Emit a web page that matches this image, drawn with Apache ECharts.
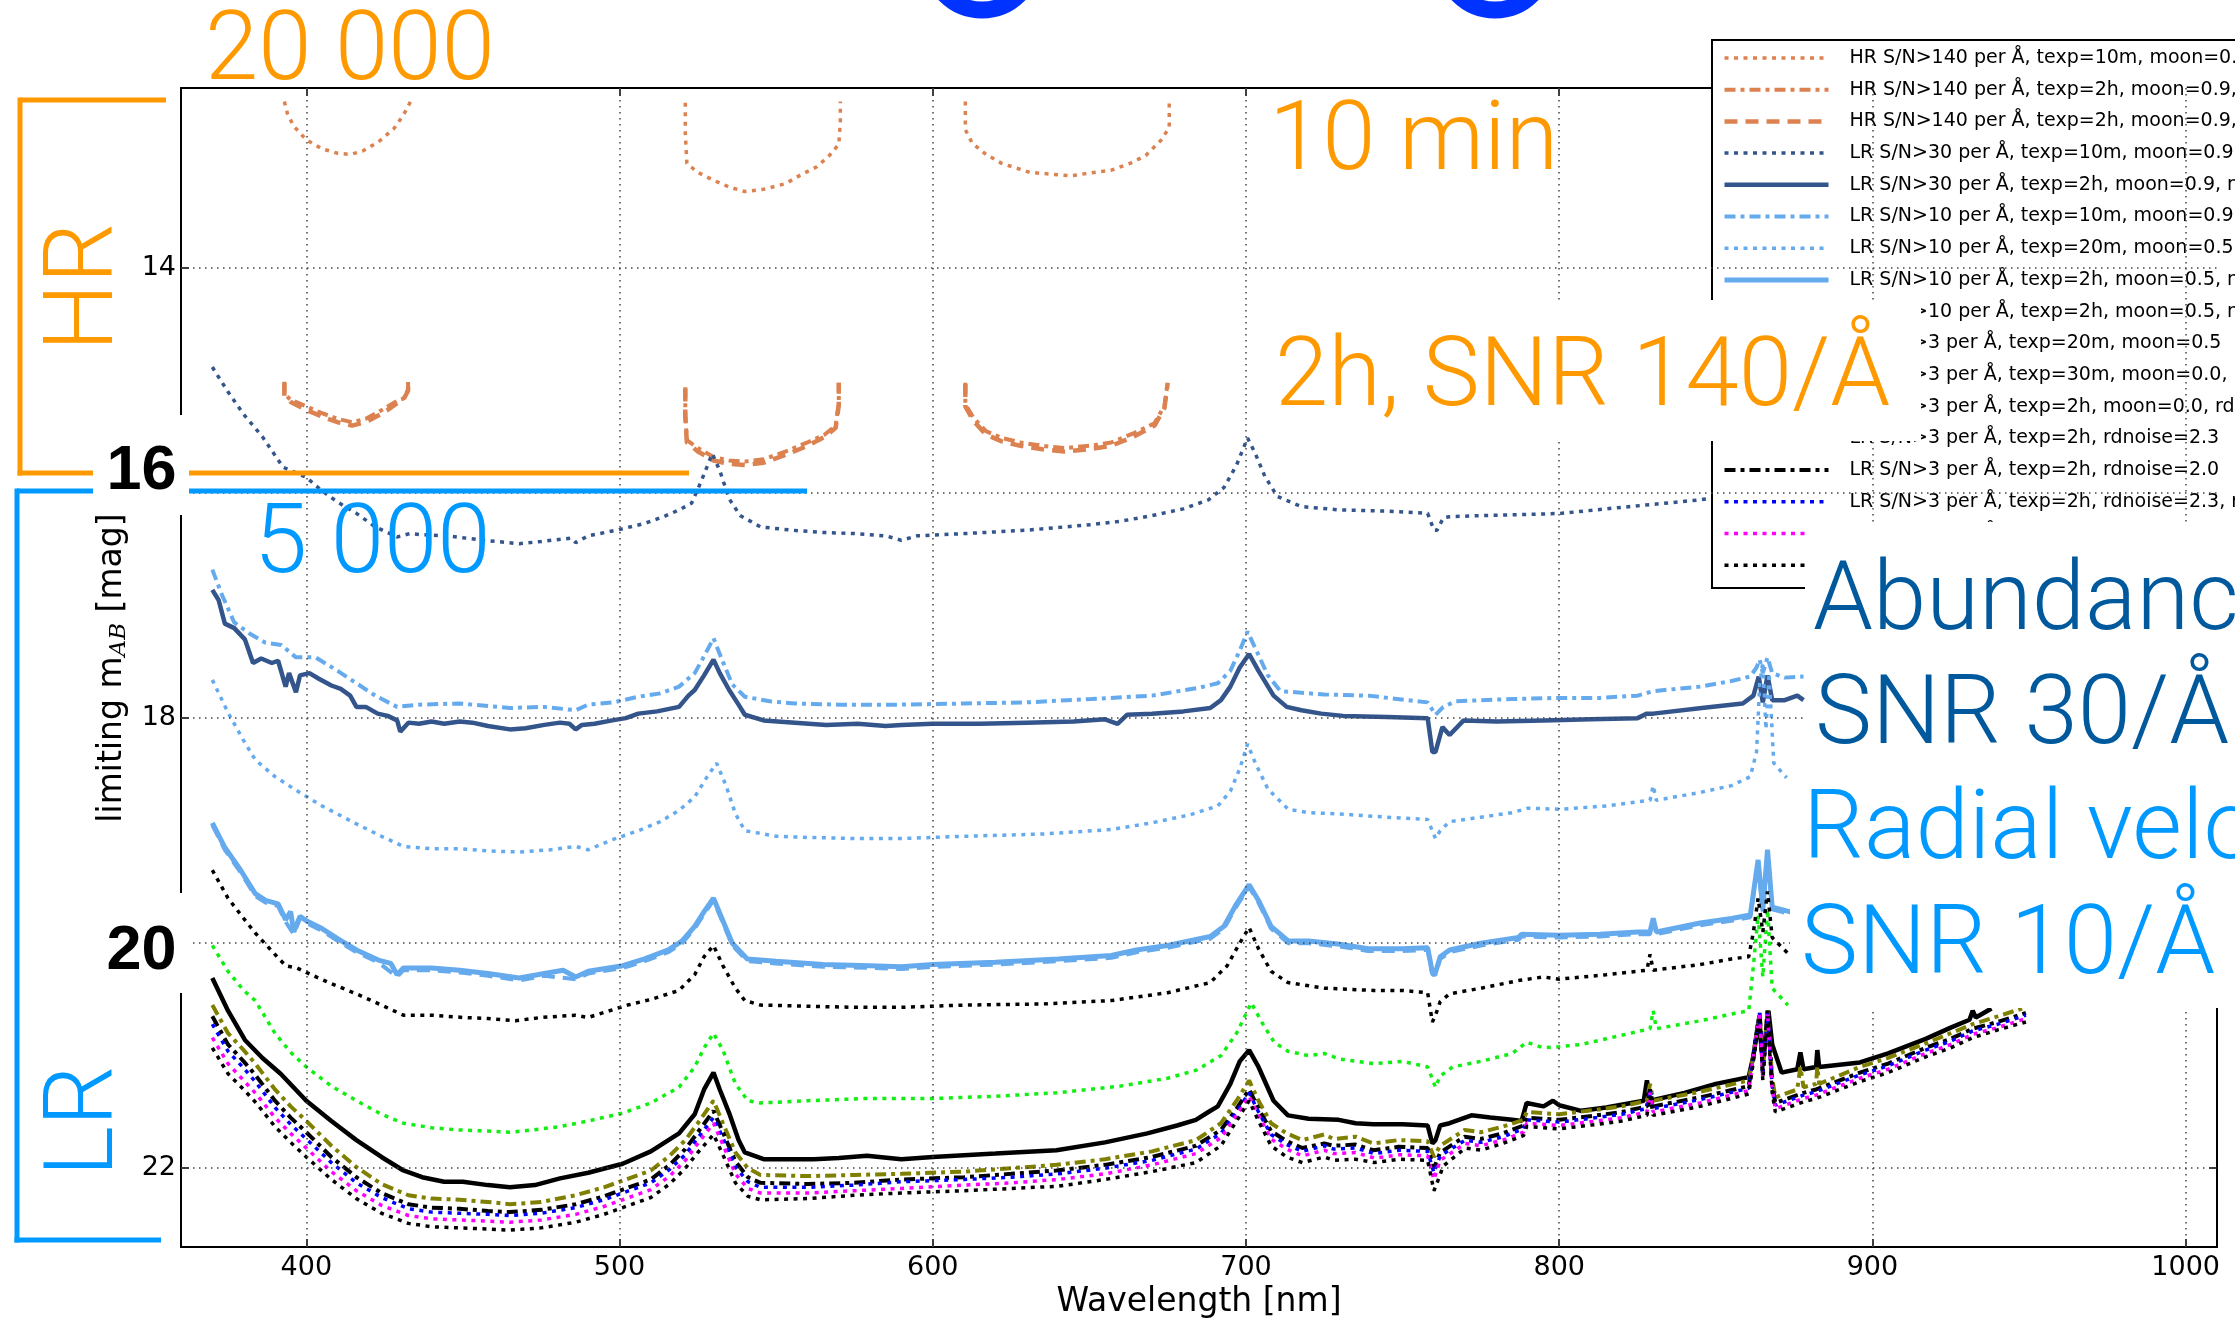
<!DOCTYPE html>
<html><head><meta charset="utf-8">
<script src="https://cdn.jsdelivr.net/npm/echarts@6/dist/echarts.min.js"></script>
<style>html,body{margin:0;padding:0;background:#fff;}#c{width:2235px;height:1324px;}</style>
</head><body><div id="c"></div>
<script>
const xTicks = [400, 500, 600, 700, 800, 900, 1000];
const yTicks = [14, 16, 18, 20, 22];

const legendLabels = [
  'HR S/N>140 per Å, texp=10m, moon=0.9',
  'HR S/N>140 per Å, texp=2h, moon=0.9,',
  'HR S/N>140 per Å, texp=2h, moon=0.9,',
  'LR S/N>30 per Å, texp=10m, moon=0.9,',
  'LR S/N>30 per Å, texp=2h, moon=0.9, no',
  'LR S/N>10 per Å, texp=10m, moon=0.9,',
  'LR S/N>10 per Å, texp=20m, moon=0.5',
  'LR S/N>10 per Å, texp=2h, moon=0.5, no',
  'LR S/N>10 per Å, texp=2h, moon=0.5, no',
  'LR S/N>3 per Å, texp=20m, moon=0.5',
  'LR S/N>3 per Å, texp=30m, moon=0.0, n',
  'LR S/N>3 per Å, texp=2h, moon=0.0, rdn',
  'LR S/N>3 per Å, texp=2h, rdnoise=2.3',
  'LR S/N>3 per Å, texp=2h, rdnoise=2.0',
  'LR S/N>3 per Å, texp=2h, rdnoise=2.3, n',
  'LR S/N>3 per Å, texp=2h',
  'LR S/N>3 per Å, texp=2h'
];

const hr10m = [[393,12.52],[394,12.63],[396,12.74],[400,12.86],[405,12.94],[410,12.98],[414,12.99],[418,12.96],[423,12.88],[428,12.76],[431,12.64],[433.5,12.51],[477,'-'],
 [521,12.53],[521,12.8],[521.5,13.07],[525,13.15],[530,13.22],[535,13.28],[540,13.32],[546,13.3],[553,13.25],[558,13.17],[563,13.1],[567,13.0],[570,12.9],[570.5,12.7],[570.5,12.52],[590,'-'],
 [610.4,12.52],[610.4,12.77],[612.6,12.89],[617,12.99],[622,13.07],[631,13.15],[644,13.18],[657,13.13],[663,13.07],[668,13.0],[673,12.86],[675.5,12.75],[675.5,12.53]];

const hr2hDashDot = [[393,15.01],[393,15.12],[395,15.17],[400,15.23],[405,15.29],[410,15.34],[414.6,15.37],[419,15.34],[423,15.28],[426,15.23],[429,15.18],[431,15.16],[432.5,15.08],[432.5,15.01],[477,'-'],
 [521,15.06],[521,15.3],[521.5,15.53],[525,15.6],[530,15.68],[535,15.71],[540,15.72],[546,15.7],[554,15.62],[560,15.55],[565.5,15.48],[569,15.4],[570,15.2],[570,15.02],[590,'-'],
 [610.4,15.02],[610.4,15.21],[613,15.33],[617,15.45],[622,15.51],[628,15.55],[635,15.58],[642,15.6],[650,15.58],[657,15.55],[664,15.47],[670.8,15.38],[674,15.22],[675,15.02]];

const hr2hDashed = [[393,15.02],[393,15.14],[395,15.19],[400,15.26],[405,15.32],[410,15.37],[414.6,15.4],[419,15.37],[423,15.31],[426,15.26],[429,15.2],[431,15.17],[432.5,15.09],[432.5,15.02],[477,'-'],
 [521,15.07],[521,15.32],[521.5,15.55],[525,15.63],[530,15.71],[535,15.74],[540,15.75],[546,15.73],[554,15.65],[560,15.58],[565.5,15.5],[569,15.42],[570,15.22],[570,15.02],[590,'-'],
 [610.4,15.03],[610.4,15.23],[613,15.36],[617,15.48],[622,15.54],[628,15.58],[635,15.61],[642,15.63],[650,15.61],[657,15.58],[664,15.5],[670.8,15.4],[674,15.24],[675,15.02]];

const lr30_10m = [[370,14.88],[375,15.1],[380,15.3],[386,15.5],[392.6,15.77],[400,15.86],[405,15.98],[410,16.08],[416,16.18],[422,16.3],[429,16.39],[433,16.36],[437,16.37],[445,16.38],[457,16.42],[468,16.45],[475,16.43],[484.6,16.4],[486,16.44],[490,16.38],[499,16.33],[508,16.27],[514,16.21],[519,16.15],[523,16.09],[526,15.9],[529.6,15.65],[532,15.8],[535,16.05],[538.5,16.2],[545,16.3],[555,16.33],[565,16.35],[575,16.36],[585,16.38],[590,16.42],[595,16.38],[610,16.36],[630,16.33],[650.6,16.28],[660,16.25],[670,16.2],[680,16.14],[688,16.06],[693,15.95],[697,15.75],[700.5,15.51],[703,15.65],[706,15.85],[710,16.03],[717.7,16.12],[730,16.15],[745,16.16],[758,16.18],[760,16.33],[761,16.33],[763,16.22],[765,16.21],[775,16.2],[790,16.19],[800.7,16.18],[815,16.14],[830,16.1],[845,16.06],[850,16.04]];

const lr30_2h = [[370,16.86],[372,16.95],[374,17.16],[377,17.2],[380.4,17.3],[383,17.51],[385.6,17.47],[389,17.51],[391,17.49],[393.4,17.72],[394.5,17.6],[396.7,17.77],[398,17.62],[401,17.6],[404,17.65],[408,17.71],[411,17.74],[414,17.8],[416,17.9],[419,17.9],[422.8,17.96],[426,17.98],[429,18.02],[430,18.12],[432.6,18.04],[436,18.05],[440,18.03],[444,18.05],[449,18.03],[453,18.04],[458,18.07],[465,18.1],[470,18.09],[476,18.06],[481,18.04],[484,18.05],[486,18.1],[488,18.06],[492,18.05],[497.7,18.02],[502,18.0],[506,17.96],[512,17.94],[519,17.9],[522,17.8],[524,17.75],[527,17.62],[530,17.48],[532,17.6],[535,17.75],[538,17.88],[540,17.97],[546,18.02],[556,18.04],[566,18.06],[576,18.05],[585,18.07],[590,18.06],[600,18.05],[615,18.05],[630,18.04],[645,18.03],[655,18.01],[659,18.05],[662,17.97],[670,17.96],[680,17.94],[688.6,17.91],[692,17.84],[695,17.72],[698,17.55],[701,17.43],[704,17.58],[708.8,17.8],[713,17.9],[717.7,17.93],[724,17.96],[731,17.98],[745,17.99],[758,18.0],[759.5,18.3],[760.5,18.3],[762.7,18.08],[765,18.15],[769.5,18.02],[780,18.03],[795,18.02],[810,18.01],[825,18.0],[828,17.96],[830,17.96],[845.5,17.91],[858.6,17.87],[862,17.8],[863.7,17.63],[865,17.86],[866.5,17.62],[868,17.84],[872,17.84],[876,17.8],[878,17.84]];

const lr10_10m = [[370,16.68],[373,16.9],[377,17.15],[382,17.25],[387,17.33],[392,17.35],[396.7,17.46],[403,17.46],[410,17.58],[416,17.69],[422,17.8],[429,17.9],[436,17.88],[449,17.87],[465,17.91],[476,17.9],[486,17.93],[490,17.88],[498,17.86],[506,17.81],[513,17.78],[519,17.72],[524,17.6],[527,17.45],[530,17.29],[533,17.5],[536,17.7],[540,17.81],[548,17.85],[556,17.87],[570,17.88],[590,17.88],[610,17.87],[630,17.86],[650.6,17.83],[670,17.8],[685,17.73],[691,17.69],[695,17.58],[698,17.4],[700.5,17.23],[703,17.38],[707,17.62],[711,17.76],[725,17.79],[739,17.8],[758,17.86],[760.5,17.97],[763,17.9],[767,17.85],[785,17.83],[800,17.82],[813,17.82],[825,17.8],[830,17.76],[845,17.72],[855,17.67],[861,17.63],[863,17.55],[864,17.48],[865,17.6],[866.5,17.46],[868,17.6],[872,17.64],[878,17.63]];

const lr10_20m = [[370,17.66],[375,17.95],[380,18.2],[383.7,18.37],[390,18.52],[396.7,18.64],[405,18.78],[416,18.94],[424,19.05],[431,19.14],[440,19.16],[449,19.16],[458,19.18],[468,19.19],[478,19.17],[486,19.14],[490,19.17],[497.7,19.08],[506,19.0],[513,18.92],[519,18.82],[524,18.7],[528,18.52],[531,18.4],[534,18.6],[537,18.85],[540,19.0],[550,19.05],[560,19.06],[575,19.07],[590,19.07],[610,19.05],[635,19.03],[657,18.99],[670,18.93],[682,18.86],[691,18.78],[695,18.65],[698,18.45],[700.5,18.23],[703,18.4],[707,18.63],[713.5,18.81],[720,18.84],[729,18.85],[745,18.88],[758,18.9],[760.5,19.07],[762,19.0],[765,18.92],[775,18.88],[785,18.84],[790,18.8],[800.7,18.81],[815,18.78],[829,18.73],[830,18.6],[831,18.73],[845,18.66],[855,18.6],[861,18.52],[863,18.3],[864,17.7],[865,17.5],[866,18.1],[867,17.6],[868.5,18.4],[872.6,18.53]];

const lr10_2h = [[370,18.93],[374,19.15],[379,19.35],[383.7,19.56],[387,19.62],[391,19.65],[393.4,19.79],[395,19.72],[396,19.9],[398,19.76],[400,19.8],[405,19.87],[410,19.96],[416,20.06],[423,20.15],[427,20.18],[429,20.28],[431,20.22],[440,20.22],[449,20.24],[458,20.27],[468,20.31],[476,20.27],[482,20.24],[486,20.3],[490,20.25],[501,20.2],[508,20.14],[515.6,20.06],[520,19.98],[524,19.85],[527,19.72],[530,19.6],[533,19.8],[536,20.0],[540.8,20.14],[550,20.16],[565,20.19],[580,20.2],[590,20.21],[600,20.19],[620,20.17],[640,20.14],[657,20.11],[665,20.06],[675,20.02],[688.6,19.94],[693,19.85],[697,19.65],[701,19.48],[704,19.62],[708,19.85],[713.5,19.98],[720,19.98],[730,20.01],[739,20.05],[750,20.05],[758,20.04],[759.5,20.26],[760.5,20.26],[762,20.12],[765,20.06],[775,20.0],[787,19.95],[788,19.92],[800,19.93],[813,19.92],[825,19.9],[829,19.9],[830,19.78],[831,19.9],[845,19.82],[855,19.78],[861,19.75],[863.5,19.26],[865,19.7],[866.5,19.17],[868,19.68],[875,19.73]];

const lr10_2hDashed = [[370,18.95],[374,19.17],[379,19.37],[383.7,19.58],[387,19.64],[391,19.67],[393.4,19.81],[396,19.92],[398,19.78],[400,19.82],[405,19.89],[410,19.98],[416,20.08],[423,20.17],[429,20.3],[431,20.24],[440,20.24],[449,20.26],[458,20.29],[468,20.33],[476,20.29],[486,20.32],[490,20.27],[501,20.22],[508,20.16],[515.6,20.08],[520,20.0],[524,19.87],[527,19.74],[530,19.62],[533,19.82],[536,20.02],[540.8,20.16],[550,20.18],[565,20.21],[580,20.22],[590,20.23],[600,20.21],[620,20.19],[640,20.16],[657,20.13],[665,20.08],[675,20.04],[688.6,19.96],[693,19.87],[697,19.67],[701,19.5],[704,19.64],[708,19.87],[713.5,20.0],[720,20.0],[730,20.03],[739,20.07],[750,20.07],[758,20.06],[759.5,20.28],[760.5,20.28],[762,20.14],[765,20.08],[775,20.02],[787,19.97],[788,19.94],[800,19.95],[813,19.94],[825,19.92],[829,19.92],[830,19.8],[831,19.92],[845,19.84],[855,19.8],[861,19.77],[863.5,19.28],[865,19.72],[866.5,19.19],[868,19.7],[875,19.75]];

const lr3_20m = [[370,20.02],[375,20.25],[380,20.42],[383.7,20.51],[390,20.8],[395,20.97],[400,21.1],[408,21.27],[416,21.4],[424,21.52],[431,21.6],[440,21.64],[449,21.66],[458,21.67],[465,21.68],[472,21.66],[481,21.63],[490,21.58],[501,21.51],[510,21.42],[519,21.28],[524,21.1],[527,20.93],[530,20.8],[533,20.95],[537,21.25],[541,21.4],[545,21.42],[560,21.4],[579,21.38],[601,21.38],[620,21.36],[639.5,21.33],[660,21.27],[675,21.2],[684,21.13],[692,21.0],[697,20.8],[701.7,20.53],[705,20.7],[709,20.88],[713.4,20.96],[720,21.0],[725,20.98],[730,21.03],[740.7,21.07],[750,21.05],[758,21.1],[760.5,21.28],[762,21.18],[766,21.1],[775,21.05],[785,20.98],[789.6,20.88],[795,20.93],[800,20.92],[807,20.9],[815,20.85],[829,20.76],[830,20.6],[831,20.76],[845,20.69],[855,20.63],[860.5,20.6],[862,20.2],[863.5,19.75],[865,20.3],[866.5,19.7],[868,20.4],[873,20.55]];

const lr3_30m = [[370,19.35],[375,19.6],[380,19.78],[383.7,19.91],[390,20.1],[393.4,20.2],[397,20.22],[400,20.26],[408,20.36],[416,20.45],[424,20.55],[431,20.64],[440,20.64],[450,20.66],[458,20.67],[466.7,20.69],[475,20.66],[486,20.64],[490,20.66],[502.6,20.55],[510,20.5],[519,20.42],[524,20.28],[527,20.12],[530,20.02],[533,20.2],[537,20.4],[540,20.51],[545,20.55],[560,20.56],[575,20.57],[590,20.57],[610,20.55],[635,20.54],[657,20.51],[675,20.44],[688.6,20.35],[694,20.2],[698,20.0],[701,19.86],[704,20.05],[708,20.25],[713.4,20.35],[725,20.4],[740.7,20.42],[750,20.42],[758,20.44],[759.5,20.7],[760.5,20.64],[762,20.52],[765,20.45],[775,20.4],[787.4,20.33],[795,20.3],[800,20.32],[815,20.28],[828,20.24],[829,20.1],[830,20.24],[845,20.19],[855,20.14],[860.5,20.12],[862,19.9],[863.5,19.6],[865,19.9],[866.5,19.54],[868,19.95],[873,20.09]];

const lr3_2h = [[370,20.31],[375,20.6],[380.4,20.86],[386,21.02],[391.8,21.16],[400,21.4],[408,21.58],[416,21.75],[424,21.9],[431,22.02],[437,22.08],[444,22.12],[450,22.12],[458,22.15],[465,22.17],[473,22.15],[481,22.09],[490,22.04],[501,21.96],[510,21.85],[519,21.69],[524,21.52],[527,21.3],[530,21.15],[532,21.3],[535,21.51],[538,21.75],[540,21.86],[546,21.92],[555,21.92],[562,21.92],[570,21.91],[579,21.89],[590,21.92],[600,21.9],[620,21.87],[639.5,21.84],[655,21.77],[668.5,21.69],[678,21.62],[684,21.57],[688,21.5],[691,21.45],[695,21.25],[698,21.05],[701,20.95],[704,21.1],[708.8,21.4],[713.4,21.53],[720,21.56],[729.6,21.57],[735,21.6],[740.7,21.61],[750,21.61],[758,21.62],[759.5,21.78],[760.5,21.75],[762,21.62],[765,21.6],[772,21.53],[778,21.55],[785,21.57],[788,21.58],[789.6,21.42],[795,21.45],[798,21.4],[800,21.44],[807,21.49],[815,21.46],[827,21.4],[828,21.22],[829,21.4],[840,21.33],[850,21.25],[860.5,21.19],[862,21.0],[863.7,20.68],[865,21.05],[866.8,20.6],[868,20.9],[871,21.15],[876,21.12],[877,20.97],[878,21.12],[882,21.1],[882.4,20.95],[883,21.1],[896,21.06],[905,20.98],[917,20.85],[925,20.75],[931,20.68],[932,20.6],[933,20.66],[938,20.58]];

const lr3_rn23 = [[370,20.55],[375,20.8],[380,20.95],[383.7,21.07],[390,21.3],[395,21.45],[400,21.58],[408,21.8],[416,21.99],[424,22.14],[432.6,22.24],[440,22.27],[449,22.28],[458,22.3],[465,22.32],[475,22.3],[486,22.24],[495,22.17],[501,22.11],[510,22.02],[516,21.89],[521,21.75],[525,21.6],[530,21.4],[533,21.6],[537,21.86],[541,22.0],[545,22.06],[560,22.07],[575,22.06],[590,22.05],[610,22.03],[625,22.0],[639.5,21.97],[655,21.92],[670,21.85],[684,21.75],[692,21.6],[697,21.4],[701,21.22],[704,21.4],[708,21.6],[713,21.69],[718,21.75],[725,21.7],[728,21.74],[735,21.72],[740.7,21.78],[748.7,21.75],[758,21.76],[760,21.9],[762,21.8],[769.8,21.66],[775,21.68],[782,21.63],[788.6,21.57],[789.6,21.5],[800,21.52],[812,21.48],[820,21.45],[828,21.4],[829,21.25],[830,21.4],[845,21.32],[860.5,21.22],[862,21.0],[864,20.62],[865,21.1],[866.5,20.6],[868,21.2],[869,21.37],[876,21.3],[877,21.1],[878,21.28],[882,21.25],[882.4,21.1],[883,21.25],[896,21.1],[905,21.02],[917,20.89],[925,20.8],[932,20.72],[940,20.65],[949,20.57]];

const lr3_rn20 = [[370,20.65],[375,20.9],[380,21.05],[383.7,21.17],[390,21.4],[395,21.55],[400,21.68],[408,21.9],[416,22.08],[424,22.22],[432.6,22.32],[440,22.35],[449,22.36],[458,22.38],[465,22.39],[475,22.37],[486,22.32],[495,22.25],[501,22.19],[510,22.1],[516,21.97],[521,21.83],[525,21.68],[530,21.49],[533,21.68],[537,21.94],[541,22.08],[545,22.13],[560,22.14],[575,22.13],[590,22.1],[610,22.08],[625,22.05],[639.5,22.02],[655,21.97],[670,21.9],[684,21.8],[692,21.66],[697,21.47],[701,21.3],[704,21.47],[708,21.67],[713,21.76],[718,21.82],[725,21.78],[728,21.8],[735,21.79],[740.7,21.84],[748.7,21.81],[758,21.82],[760,22.0],[762,21.86],[769.8,21.72],[775,21.74],[782,21.69],[788.6,21.62],[789.6,21.55],[800,21.57],[812,21.53],[820,21.5],[828,21.45],[829,21.3],[830,21.45],[845,21.37],[860.5,21.27],[862,21.0],[864,20.62],[865,21.15],[866.5,20.6],[868,21.25],[869,21.42],[876,21.35],[878,21.33],[882,21.3],[896,21.15],[905,21.07],[917,20.93],[925,20.85],[932,20.76],[940,20.7],[949,20.62]];

const lr3_rn23b = [[370,20.72],[375,20.96],[380,21.11],[384,21.24],[390,21.46],[395,21.61],[400,21.74],[408,21.95],[416,22.13],[424,22.26],[432.6,22.36],[440,22.39],[449,22.4],[458,22.41],[465,22.42],[475,22.4],[486,22.35],[495,22.28],[501,22.22],[510,22.13],[516,22.01],[521,21.88],[525,21.73],[530,21.55],[533,21.73],[537,21.99],[541,22.12],[545,22.17],[560,22.17],[575,22.15],[590,22.12],[610,22.1],[625,22.08],[640,22.05],[655,22.0],[670,21.93],[684,21.83],[692,21.69],[697,21.5],[701,21.33],[704,21.5],[708,21.7],[713,21.79],[718,21.85],[725,21.8],[728,21.83],[735,21.82],[741,21.87],[749,21.84],[758,21.85],[760,22.04],[762,21.89],[770,21.75],[775,21.77],[782,21.72],[788.6,21.65],[789.6,21.57],[800,21.59],[812,21.55],[820,21.52],[828,21.47],[829,21.3],[830,21.47],[845,21.39],[860.5,21.29],[862,21.0],[864,20.62],[865,21.18],[866.5,20.62],[868,21.27],[869,21.44],[876,21.37],[878,21.35],[882,21.32],[896,21.17],[905,21.09],[917,20.95],[925,20.87],[932,20.78],[940,20.72],[949,20.64]];

const lr3_magenta = [[370,20.84],[375,21.07],[380,21.22],[384,21.34],[390,21.55],[395,21.69],[400,21.82],[408,22.03],[416,22.2],[424,22.33],[432.6,22.42],[440,22.45],[449,22.46],[458,22.47],[465,22.48],[475,22.46],[486,22.41],[495,22.34],[501,22.28],[510,22.19],[516,22.07],[521,21.93],[525,21.78],[530,21.6],[533,21.79],[537,22.05],[541,22.18],[545,22.22],[560,22.22],[575,22.2],[590,22.18],[610,22.15],[625,22.13],[640,22.1],[655,22.05],[670,21.97],[684,21.87],[692,21.73],[697,21.53],[701,21.36],[704,21.53],[708,21.74],[713,21.83],[718,21.89],[725,21.84],[728,21.87],[735,21.86],[741,21.91],[749,21.88],[758,21.89],[760,22.1],[762,21.93],[770,21.78],[775,21.8],[782,21.75],[788.6,21.68],[789.6,21.6],[800,21.62],[812,21.58],[820,21.55],[828,21.5],[829,21.33],[830,21.5],[845,21.42],[860.5,21.31],[862,21.0],[864,20.62],[865,21.2],[866.5,20.62],[868,21.3],[869,21.47],[876,21.4],[878,21.38],[882,21.35],[896,21.2],[905,21.12],[917,20.98],[925,20.9],[932,20.81],[940,20.75],[949,20.67]];

const lr3_blackDot = [[370,20.93],[375,21.16],[380,21.3],[384,21.42],[390,21.63],[395,21.77],[400,21.9],[408,22.1],[416,22.27],[424,22.4],[432.6,22.49],[440,22.52],[449,22.53],[458,22.54],[465,22.55],[475,22.53],[486,22.48],[495,22.41],[501,22.35],[510,22.26],[516,22.14],[521,22.0],[525,21.86],[530,21.7],[533,21.88],[537,22.13],[541,22.25],[545,22.28],[560,22.27],[575,22.24],[590,22.22],[610,22.2],[625,22.18],[640,22.16],[655,22.1],[670,22.03],[684,21.95],[692,21.8],[697,21.58],[701,21.4],[704,21.58],[708,21.8],[713,21.9],[718,21.95],[725,21.9],[728,21.93],[735,21.92],[741,21.95],[749,21.92],[758,21.93],[760,22.2],[761,22.13],[763,21.98],[770,21.82],[775,21.84],[782,21.78],[788.6,21.71],[789.6,21.63],[800,21.65],[812,21.61],[820,21.58],[828,21.53],[829,21.36],[830,21.53],[845,21.45],[860.5,21.34],[862,21.05],[864,20.65],[865,21.22],[866.5,20.65],[868,21.33],[869,21.5],[876,21.43],[878,21.41],[882,21.38],[896,21.23],[905,21.15],[917,21.01],[925,20.93],[932,20.84],[940,20.77],[949,20.7]];

const C_ORANGE = '#dc8250', C_DARK = '#34558b', C_LIGHT = '#66aaee';
const DOT = [4, 5.5], DASHDOT = [11, 5, 4, 5], DASH = [13, 8];
const seriesDefs = [
  [hr10m, C_ORANGE, DOT, 3.5],
  [hr2hDashDot, C_ORANGE, DASHDOT, 4],
  [hr2hDashed, C_ORANGE, DASH, 4.5],
  [lr30_10m, C_DARK, DOT, 3.5],
  [lr30_2h, C_DARK, 'solid', 4.5],
  [lr10_10m, C_LIGHT, DASHDOT, 4],
  [lr10_20m, C_LIGHT, DOT, 3.5],
  [lr10_2h, C_LIGHT, 'solid', 5],
  [lr10_2hDashed, C_LIGHT, DASH, 4],
  [lr3_20m, '#11ee11', DOT, 3.5],
  [lr3_30m, '#000000', DOT, 3.5],
  [lr3_2h, '#000000', 'solid', 4.5],
  [lr3_rn23, '#808000', DASHDOT, 4],
  [lr3_rn20, '#000000', DASHDOT, 4],
  [lr3_rn23b, '#0000ff', DOT, 3.5],
  [lr3_magenta, '#ff00ff', DOT, 3.5],
  [lr3_blackDot, '#000000', DOT, 3.5]
];

const series = [{
  name: '_grid', type: 'line', data: [[360, 30]], symbol: 'none', z: 1, silent: true,
  markLine: {
    silent: true, symbol: ['none', 'none'], label: { show: false }, animation: false,
    lineStyle: { color: '#444', type: [1.5, 4.5], width: 1.5 },
    emphasis: { disabled: true },
    data: xTicks.map(v => ({ xAxis: v })).concat(yTicks.map(v => ({ yAxis: v })))
  }
}];
seriesDefs.forEach((d, i) => {
  series.push({
    name: 'r' + i, type: 'line', data: d[0], symbol: 'none', showSymbol: false,
    connectNulls: false, z: 2, silent: true,
    lineStyle: { color: d[1], type: d[2], width: d[3] },
    itemStyle: { color: d[1] },
    emphasis: { disabled: true }
  });
});

const FONT = 'Roboto, Liberation Sans, Arial, sans-serif';
const FW = 300;
const ORANGE = '#ff9900', BLUE = '#0099ff', NAVY = '#00599c';
function T(text, x, y, color, size, extra) {
  return Object.assign({ type: 'text', x: x, y: y, z: 100, silent: true,
    style: { text: text, fill: color, fontFamily: FONT, fontWeight: FW, fontSize: size, align: 'left', verticalAlign: 'middle', textAlign: 'left', textVerticalAlign: 'middle' } }, extra || {});
}
function R(x, y, w, h, z) {
  return { type: 'rect', z: z || 90, silent: true, shape: { x: x, y: y, width: w, height: h }, style: { fill: '#fff' } };
}
function L(x1, y1, x2, y2, color, w) {
  return { type: 'line', z: 80, silent: true, shape: { x1: x1, y1: y1, x2: x2, y2: y2 }, style: { stroke: color, lineWidth: w } };
}

const graphics = [
  { type: 'circle', z: 100, silent: true, shape: { cx: 982, cy: -42, r: 52 }, style: { fill: null, stroke: '#0033ff', lineWidth: 17 } },
  { type: 'circle', z: 100, silent: true, shape: { cx: 1495, cy: -42, r: 52 }, style: { fill: null, stroke: '#0033ff', lineWidth: 17 } },
  // legend frame
  { type: 'rect', z: 3, silent: true, shape: { x: 1712, y: 40, width: 700, height: 548 }, style: { fill: '#fff', stroke: '#000', lineWidth: 2 } },
  // brackets
  L(20, 100, 166, 100, ORANGE, 5), L(20, 97.5, 20, 475.5, ORANGE, 5), L(17.5, 473, 689, 473, ORANGE, 5),
  L(17, 491, 807, 491, BLUE, 5), L(17, 488.5, 17, 1242.5, BLUE, 5), L(14.5, 1240, 161, 1240, BLUE, 5),
  // white covers
  R(93, 415, 96, 100), R(93, 893, 96, 100),
  R(1270, 300, 651, 141),
  R(1805, 522, 500, 240), R(1790, 760, 500, 248),
  // overlay texts
  T('20 000', 205, 55, ORANGE, 96),
  T('10 min', 1269, 145, ORANGE, 96),
  T('2h, SNR 140/Å', 1275, 381, ORANGE, 96),
  T('5 000', 254, 548, BLUE, 96),
  T('Abundances', 1813, 605, NAVY, 96),
  T('SNR 30/Å', 1815, 719, NAVY, 96),
  T('Radial velocity', 1803, 834, BLUE, 96),
  T('SNR 10/Å', 1801, 949, BLUE, 96),
  { type: 'text', x: 88, y: 287, rotation: Math.PI / 2, z: 100, silent: true, style: { text: 'HR', fill: ORANGE, fontFamily: FONT, fontWeight: FW, fontSize: 96, align: 'center', verticalAlign: 'middle', textAlign: 'center', textVerticalAlign: 'middle' } },
  { type: 'text', x: 88, y: 1121, rotation: Math.PI / 2, z: 100, silent: true, style: { text: 'LR', fill: BLUE, fontFamily: FONT, fontWeight: FW, fontSize: 96, align: 'center', verticalAlign: 'middle', textAlign: 'center', textVerticalAlign: 'middle' } },
  { type: 'text', x: 141.5, y: 472, z: 100, silent: true, style: { text: '16', fill: '#000', fontFamily: 'Liberation Sans, Arial, sans-serif', fontWeight: 'bold', fontSize: 63, align: 'center', verticalAlign: 'middle', textAlign: 'center', textVerticalAlign: 'middle' } },
  { type: 'text', x: 141.5, y: 952, z: 100, silent: true, style: { text: '20', fill: '#000', fontFamily: 'Liberation Sans, Arial, sans-serif', fontWeight: 'bold', fontSize: 63, align: 'center', verticalAlign: 'middle', textAlign: 'center', textVerticalAlign: 'middle' } },
  // y axis title
  { type: 'text', x: 112, y: 668, rotation: Math.PI / 2, z: 50, silent: true,
    style: { text: 'limiting m{ab|AB} [mag]', fill: '#000', fontFamily: 'DejaVu Sans', fontSize: 33, align: 'center', verticalAlign: 'middle', textAlign: 'center', textVerticalAlign: 'middle',
      rich: { ab: { fontFamily: 'DejaVu Serif', fontStyle: 'italic', fontSize: 23, padding: [14, 0, 0, 0] } } } }
];

const axisCommon = { axisLine: { show: true, lineStyle: { color: '#000', width: 2 } }, splitLine: { show: false } };
const option = {
  animation: false,
  backgroundColor: '#fff',
  textStyle: { fontFamily: 'DejaVu Sans' },
  grid: { left: 181, top: 88, width: 2036, height: 1159, show: false },
  xAxis: [
    Object.assign({ type: 'value', min: 360, max: 1010, position: 'bottom',
      axisTick: { show: true, inside: true, length: 8, customValues: xTicks, lineStyle: { color: '#000', width: 1.5 } },
      axisLabel: { customValues: xTicks, formatter: v => String(v), fontFamily: 'DejaVu Sans', fontSize: 27, color: '#000', margin: 7 },
      name: 'Wavelength [nm]', nameLocation: 'middle', nameGap: 37,
      nameTextStyle: { fontFamily: 'DejaVu Sans', fontSize: 33, color: '#000' } }, axisCommon),
    Object.assign({ type: 'value', min: 360, max: 1010, position: 'top',
      axisTick: { show: true, inside: true, length: 8, customValues: xTicks, lineStyle: { color: '#000', width: 1.5 } },
      axisLabel: { show: false } }, axisCommon)
  ],
  yAxis: [
    Object.assign({ type: 'value', inverse: true, min: 12.4, max: 22.7, position: 'left',
      axisTick: { show: true, inside: true, length: 8, customValues: yTicks, lineStyle: { color: '#000', width: 1.5 } },
      axisLabel: { customValues: yTicks, formatter: v => String(v), fontFamily: 'DejaVu Sans', fontSize: 27, color: '#000', margin: 5 } }, axisCommon),
    Object.assign({ type: 'value', inverse: true, min: 12.4, max: 22.7, position: 'right',
      axisTick: { show: true, inside: true, length: 8, customValues: yTicks, lineStyle: { color: '#000', width: 1.5 } },
      axisLabel: { show: false } }, axisCommon)
  ],
  legend: {
    data: seriesDefs.map((d, i) => ({ name: 'r' + i, lineStyle: { color: d[1], type: d[2], width: d[3] } })),
    formatter: name => legendLabels[+name.slice(1)],
    orient: 'vertical', left: 1722, top: 48, padding: 0,
    itemWidth: 104, itemHeight: 20, itemGap: 11.7,
    selectedMode: false, z: 5,
    itemStyle: { opacity: 0 },
    textStyle: { fontFamily: 'DejaVu Sans', fontSize: 19, color: '#000', lineHeight: 20, padding: [0, 0, 0, 16] }
  },
  series: series,
  graphic: graphics
};
const chart = echarts.init(document.getElementById('c'), null, { renderer: 'canvas' });
chart.setOption(option);
</script></body></html>
